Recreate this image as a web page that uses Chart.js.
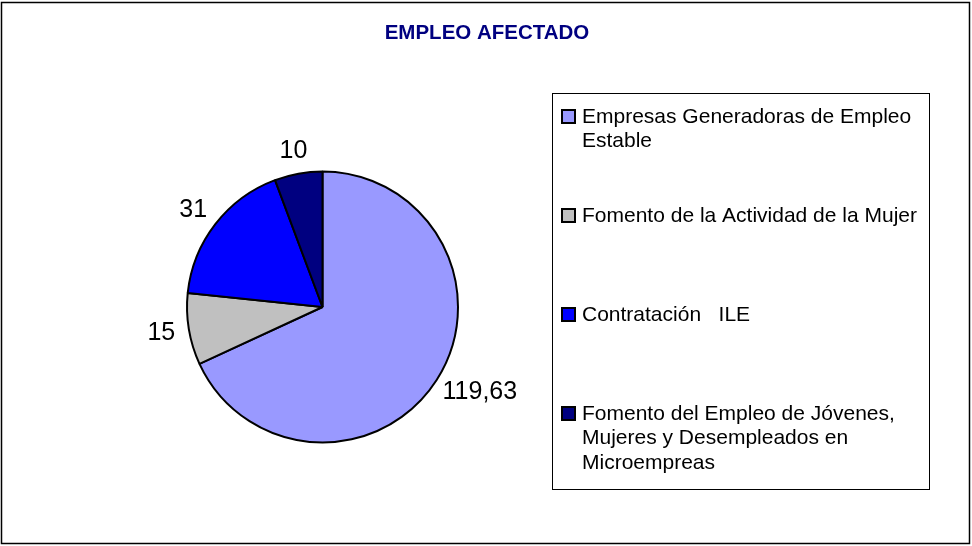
<!DOCTYPE html>
<html>
<head>
<meta charset="utf-8">
<script src="https://cdn.jsdelivr.net/npm/chart.js@4/dist/chart.umd.min.js"></script>
<style>
	body { margin: 0; background: #fff; }
	#wrap { position: relative; width: 972px; height: 546px; }
</style>
</head>
<body>
<div id="wrap"><canvas id="pie"></canvas></div>
<script>
// datos del grafico
const title = 'EMPLEO AFECTADO';
const categories = [
	['Empresas Generadoras de Empleo', 'Estable'],
	['Fomento de la Actividad de la Mujer'],
	['Contratación   ILE'],
	['Fomento del Empleo de Jóvenes,', 'Mujeres y Desempleados en', 'Microempreas']
];
const values = [119.63, 15, 31, 10];
const colors = ['#9999FF', '#C0C0C0', '#0000FF', '#000080'];

const FONT = 'Arial, "Liberation Sans", Helvetica, sans-serif';

// titulo, etiquetas, leyenda y marco
const extras = {
	id: 'extras',
	afterDraw(chart) {
		const ctx = chart.ctx;
		ctx.save();

		// marco exterior
		ctx.strokeStyle = '#000';
		ctx.lineWidth = 1.5;
		ctx.strokeRect(1.5, 2.5, 968, 541);

		// titulo
		ctx.fillStyle = '#000080';
		ctx.font = 'bold 20.5px ' + FONT;
		ctx.textAlign = 'center';
		ctx.textBaseline = 'alphabetic';
		ctx.fillText(title, 487, 38.5);

		// etiquetas de valores
		const meta = chart.getDatasetMeta(0);
		ctx.font = '25px ' + FONT;
		ctx.fillStyle = '#000';
		ctx.textBaseline = 'middle';
		meta.data.forEach((arc, i) => {
			const p = arc.getProps(['x', 'y', 'startAngle', 'endAngle', 'outerRadius'], true);
			const mid = (p.startAngle + p.endAngle) / 2;
			const c = Math.cos(mid), s = Math.sin(mid);
			const txt = String(values[i]).replace('.', ',');
			const w = ctx.measureText(txt).width;
			const r = p.outerRadius + 14;
			const x = p.x + r * c + c * w / 2;
			const y = p.y + r * s + s * 8.5;
			ctx.fillText(txt, x, y);
		});

		// leyenda
		ctx.strokeStyle = '#000';
		ctx.lineWidth = 1;
		ctx.strokeRect(552.5, 93.5, 377, 396);
		ctx.font = '21px ' + FONT;
		ctx.textAlign = 'left';
		categories.forEach((lines, i) => {
			const y0 = 117 + i * 99;
			ctx.fillStyle = colors[i];
			ctx.fillRect(562, y0 - 7, 13, 13);
			ctx.lineWidth = 2;
			ctx.strokeRect(562, y0 - 7, 13, 13);
			ctx.fillStyle = '#000';
			lines.forEach((ln, j) => {
				ctx.fillText(ln, 582, y0 + j * 24.5);
			});
		});

		ctx.restore();
	}
};

new Chart(document.getElementById('pie'), {
	type: 'pie',
	data: {
		labels: categories,
		datasets: [{
			data: values,
			backgroundColor: colors,
			borderColor: '#000',
			borderWidth: 2
		}]
	},
	options: {
		responsive: true,
		maintainAspectRatio: false,
		animation: false,
		layout: {
			padding: { left: 186, right: 513, top: 170.5, bottom: 102.5 }
		},
		plugins: {
			legend: { display: false },
			tooltip: { enabled: false }
		}
	},
	plugins: [extras]
});
</script>
</body>
</html>
